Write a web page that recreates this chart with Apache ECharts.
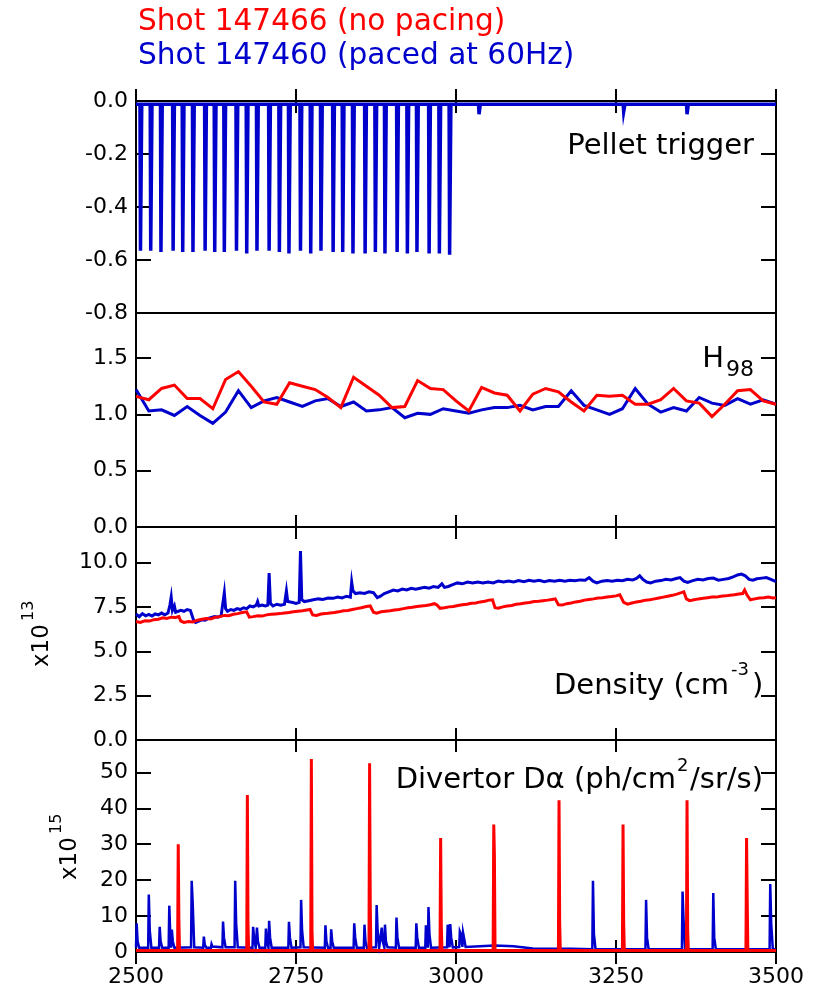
<!DOCTYPE html>
<html><head><meta charset="utf-8">
<script src="https://cdn.jsdelivr.net/npm/echarts@6/dist/echarts.min.js"></script>
<style>html,body{margin:0;padding:0;background:#fff}#c{width:819px;height:989px}</style>
</head><body><div id="c"></div><script>
// ---------------- DATA ----------------
const X_MIN = 2500, X_MAX = 3500, X_INTERVAL = 250;
const X_TICKS = ['2500', '2750', '3000', '3250', '3500'];

// Panel 1: pellet trigger (blue, shot 147460)
const PELLET_BASE = -0.012;
const PELLET_SPIKE_T = [2507, 2523, 2539, 2558, 2573, 2589, 2608, 2623, 2638, 2657, 2673, 2689, 2708, 2724, 2739,
  2757, 2773, 2789, 2808, 2823, 2839, 2858, 2874, 2889, 2908, 2924, 2939, 2958, 2974, 2990, 3036, 3262, 3361];
const PELLET_SPIKE_V = [-0.565, -0.565, -0.57, -0.565, -0.57, -0.57, -0.565, -0.57, -0.57, -0.565, -0.575, -0.565, -0.565, -0.57, -0.575,
  -0.565, -0.575, -0.565, -0.57, -0.57, -0.575, -0.575, -0.57, -0.575, -0.57, -0.575, -0.57, -0.575, -0.575, -0.58, -0.05, -0.04, -0.05];

// Panel 2: H98
const H98_T = [2500, 2520, 2540, 2560, 2580, 2600, 2620, 2640, 2660, 2680, 2700, 2720, 2740, 2760, 2780, 2800, 2820, 2840, 2860, 2880,
  2900, 2920, 2940, 2960, 2980, 3000, 3020, 3040, 3060, 3080, 3100, 3120, 3140, 3160, 3180, 3200, 3220, 3240, 3260, 3280,
  3300, 3320, 3340, 3360, 3380, 3400, 3420, 3440, 3460, 3480, 3500];
const H98_RED = [1.16, 1.13, 1.23, 1.26, 1.14, 1.14, 1.05, 1.31, 1.38, 1.25, 1.11, 1.09, 1.28, 1.25, 1.22, 1.15, 1.06, 1.33, 1.25, 1.17,
  1.06, 1.07, 1.30, 1.23, 1.22, 1.12, 1.03, 1.24, 1.19, 1.17, 1.03, 1.18, 1.23, 1.20, 1.11, 1.03, 1.17, 1.16, 1.17, 1.09,
  1.09, 1.13, 1.23, 1.12, 1.10, 0.98, 1.09, 1.21, 1.22, 1.12, 1.09];
const H98_BLUE = [1.22, 1.03, 1.04, 0.99, 1.07, 0.99, 0.92, 1.02, 1.21, 1.06, 1.12, 1.15, 1.11, 1.07, 1.12, 1.14, 1.07, 1.11, 1.03, 1.04,
  1.06, 0.97, 1.01, 1.00, 1.05, 1.03, 1.01, 1.04, 1.06, 1.06, 1.08, 1.04, 1.07, 1.07, 1.21, 1.08, 1.04, 1.00, 1.05, 1.23,
  1.09, 1.02, 1.06, 1.03, 1.15, 1.10, 1.08, 1.14, 1.09, 1.13, 1.09];

// Panel 3: density (x1e13 cm^-3)
const DENS_BLUE = [[2500,7.10],[2505,6.95],[2510,7.12],[2515,7.00],[2520,7.08],[2525,6.98],[2530,7.10],[2535,7.05],[2540,7.15],[2545,7.05],
  [2550,7.15],[2553,7.6],[2555,8.05],[2557,7.3],[2560,7.55],[2562,7.2],[2565,7.25],[2570,7.30],[2575,7.25],[2580,7.35],[2585,7.30],[2588,7.38],
  [2590,6.75],[2593,6.62],[2598,6.70],[2603,6.78],[2608,6.75],[2613,6.85],[2618,6.90],[2623,6.95],[2628,6.92],[2633,7.00],[2636,7.05],
  [2638,8.30],[2640,7.4],[2643,7.25],[2648,7.35],[2653,7.30],[2658,7.40],[2663,7.35],[2668,7.45],[2673,7.40],[2678,7.55],[2683,7.50],
  [2688,7.60],[2690,7.8],[2692,7.55],[2697,7.60],[2702,7.55],[2706,7.6],[2708,9.40],[2710,7.7],[2714,7.55],[2720,7.65],[2726,7.60],
  [2732,7.65],[2735,8.4],[2737,7.8],[2740,7.7],[2745,7.75],[2750,7.70],[2755,7.75],[2757,10.65],[2759,7.9],[2763,7.80],[2770,7.85],
  [2777,7.90],[2785,7.95],[2792,7.92],[2800,8.00],[2808,7.98],[2815,8.05],[2822,8.00],[2829,8.10],[2835,8.05],[2837,8.9],[2839,8.4],
  [2843,8.25],[2850,8.30],[2857,8.26],[2864,8.35],[2871,8.30],[2877,8.02],[2882,8.10],[2888,8.25],[2895,8.35],[2902,8.45],[2909,8.40],
  [2916,8.50],[2923,8.45],[2930,8.55],[2937,8.50],[2944,8.55],[2951,8.60],[2958,8.55],[2965,8.65],[2972,8.60],[2978,8.80],[2982,8.60],
  [2988,8.65],[2995,8.75],[3002,8.85],[3010,8.80],[3018,8.90],[3026,8.85],[3034,8.90],[3042,8.85],[3050,8.90],[3058,8.85],[3066,8.95],
  [3074,8.90],[3082,8.95],[3090,8.90],[3098,8.98],[3106,8.92],[3114,9.00],[3122,8.95],[3130,9.00],[3138,8.92],[3146,8.98],[3154,8.95],
  [3162,9.00],[3170,8.95],[3178,9.00],[3186,8.97],[3194,9.02],[3202,9.00],[3208,9.15],[3214,8.95],[3220,8.85],[3228,8.95],[3236,8.98],
  [3244,8.95],[3252,9.00],[3260,8.97],[3268,9.05],[3276,9.02],[3282,9.10],[3287,9.25],[3292,9.05],[3298,8.90],[3304,8.85],[3312,8.95],
  [3320,8.98],[3328,9.05],[3336,9.02],[3344,9.10],[3350,9.15],[3356,8.95],[3362,8.88],[3370,8.98],[3378,9.05],[3386,9.02],[3394,9.10],
  [3402,9.12],[3410,9.00],[3418,9.05],[3426,9.10],[3434,9.20],[3440,9.30],[3446,9.35],[3452,9.25],[3458,9.05],[3464,9.00],[3470,9.08],
  [3478,9.12],[3485,9.15],[3492,9.05],[3498,8.95],[3500,9.00]];
const DENS_RED = [[2500,6.68],[2507,6.62],[2514,6.72],[2521,6.70],[2528,6.78],[2535,6.80],[2542,6.88],[2548,6.85],[2555,6.92],[2562,6.90],
  [2567,6.95],[2570,6.70],[2575,6.62],[2582,6.68],[2589,6.65],[2596,6.75],[2603,6.80],[2610,6.85],[2617,6.82],[2624,6.92],[2631,6.95],
  [2638,7.02],[2645,7.00],[2652,7.08],[2659,7.12],[2666,7.18],[2673,7.22],[2677,6.92],[2683,6.95],[2690,7.00],[2697,6.98],[2704,7.05],
  [2711,7.08],[2718,7.10],[2725,7.12],[2732,7.15],[2739,7.18],[2746,7.22],[2753,7.25],[2760,7.28],[2767,7.32],[2772,7.35],[2776,7.05],
  [2782,7.02],[2789,7.10],[2796,7.12],[2803,7.15],[2810,7.18],[2817,7.22],[2824,7.28],[2831,7.30],[2838,7.35],[2845,7.40],[2852,7.45],
  [2860,7.52],[2866,7.55],[2871,7.20],[2876,7.15],[2883,7.22],[2890,7.25],[2897,7.28],[2904,7.32],[2911,7.35],[2918,7.40],[2925,7.45],
  [2932,7.48],[2939,7.52],[2946,7.55],[2953,7.58],[2960,7.62],[2966,7.68],[2970,7.62],[2975,7.42],[2982,7.45],[2989,7.50],[2996,7.52],
  [3003,7.58],[3010,7.62],[3017,7.65],[3024,7.70],[3031,7.72],[3038,7.78],[3045,7.82],[3052,7.88],[3057,7.90],[3061,7.45],[3066,7.42],
  [3073,7.50],[3080,7.55],[3087,7.58],[3094,7.65],[3101,7.68],[3108,7.72],[3115,7.75],[3122,7.80],[3129,7.82],[3136,7.85],[3143,7.88],
  [3150,7.92],[3155,7.95],[3160,7.62],[3166,7.60],[3173,7.68],[3180,7.72],[3187,7.78],[3194,7.82],[3201,7.88],[3208,7.92],[3215,7.95],
  [3222,8.00],[3229,8.02],[3236,8.05],[3243,8.08],[3250,8.12],[3256,8.18],[3262,7.75],[3268,7.65],[3275,7.72],[3282,7.78],[3289,7.82],
  [3296,7.88],[3303,7.90],[3310,7.95],[3317,8.00],[3324,8.05],[3331,8.10],[3338,8.15],[3345,8.22],[3352,8.30],[3356,8.35],[3360,7.95],
  [3365,7.85],[3372,7.90],[3379,7.95],[3386,7.98],[3393,8.02],[3400,8.05],[3407,8.05],[3414,8.10],[3421,8.12],[3428,8.15],[3435,8.18],
  [3442,8.22],[3448,8.25],[3451,8.45],[3455,8.15],[3460,7.90],[3467,7.95],[3474,8.00],[3481,8.02],[3488,8.05],[3495,8.00],[3500,8.02]];

// Panel 4: divertor D-alpha (x1e15)
const DA_RED_BASE = 0.4;
const DA_RED_T = [2566, 2674, 2774, 2865, 2976, 3059, 3161, 3261, 3361, 3454];
const DA_RED_PEAK = [30, 43.7, 53.7, 52.5, 31.7, 35.5, 42.2, 35.5, 42.2, 31.7];
const DA_RED_SHOULDER = [9, 8, 6, 14, 8, 27, 8, 8, 6, 15];
// blue spikes: [time, peak, tail, local baseline]
const DA_BLUE_SPIKES = [[2501,8,3,1.2],[2520,16,6,1.2],[2537,7,3,1.2],[2552,12.9,5,1.2],[2556,6.2,3,1.2],[2587,19.8,14,1.3],
  [2606,4.3,2,1.2],[2618,2.2,1.5,1.2],[2636,8.5,4,1.3],[2655,19.8,8,1.3],[2683,7,4,1.2],[2689,6.8,3,1.2],[2703,6.5,3,1.2],
  [2708,8.7,4,1.2],[2739,8.4,4,1.2],[2758,14.5,6,1.3],[2796,7.4,3,1.2],[2805,6.3,3,1.2],[2841,8,4,1.2],[2857,7.6,3,1.2],
  [2876,13.1,6,1.3],[2884,6.8,3,1.3],[2889,7.6,3,1.3],[2907,9.6,4,1.2],[2938,8,4,1.2],[2953,7.4,3,1.2],[2957,12.5,5,1.2],
  [2987,7.6,4,1.3],[2991,7.8,4,1.3],[3006,5.7,5,1.4],[3011,5.4,4,1.4],[3214,19.8,5,0.8],[3297,14.5,4,0.8],[3354,16.8,9,0.8],
  [3402,16.4,4,0.8],[3491,18.9,8,0.8]];
const DA_BLUE_BASE = [[2500,1.2],[3030,1.5],[3060,1.8],[3090,1.6],[3120,1.0],[3180,0.9],[3500,0.8]];

// ---------------- BUILD ----------------
const RED = '#ff0000', BLUE = '#0000cc';
const FONT = 'DejaVu Sans';

function pelletTrace() {
  const pts = [[X_MIN, PELLET_BASE]];
  PELLET_SPIKE_T.forEach((t, i) => {
    pts.push([t - 0.8, PELLET_BASE], [t, PELLET_SPIKE_V[i]], [t + 1.2, PELLET_SPIKE_V[i]], [t + 2, PELLET_BASE]);
  });
  pts.push([X_MAX, PELLET_BASE]);
  return pts.sort((a, b) => a[0] - b[0]);
}
function redDaTrace() {
  const pts = [[X_MIN, DA_RED_BASE]];
  DA_RED_T.forEach((t, i) => {
    pts.push([t - 1, DA_RED_BASE], [t, DA_RED_PEAK[i]], [t + 1, DA_RED_SHOULDER[i]], [t + 2, DA_RED_BASE]);
  });
  pts.push([X_MAX, DA_RED_BASE]);
  return pts.sort((a, b) => a[0] - b[0]);
}
function blueDaTrace() {
  const pts = DA_BLUE_BASE.slice();
  DA_BLUE_SPIKES.forEach(s => {
    pts.push([s[0] - 1, s[3]], [s[0], s[1]], [s[0] + 1.5, s[2]], [s[0] + 4, s[3]]);
  });
  return pts.sort((a, b) => a[0] - b[0]);
}
const zip = (xs, ys) => xs.map((x, i) => [x, ys[i]]);

const PANELS = [
  { top: 101, height: 212, min: -0.8, max: 0, interval: 0.2, fmt: v => v.toFixed(1) },
  { top: 313, height: 214, min: 0, max: 1.9, interval: 0.5, fmt: v => v.toFixed(1) },
  { top: 527, height: 213, min: 0, max: 12, interval: 2.5, fmt: v => v.toFixed(1) },
  { top: 740, height: 212, min: 0, max: 59, interval: 10, fmt: v => String(Math.round(v)) }
];

const grid = [], xAxis = [], yAxis = [];
PANELS.forEach((p, i) => {
  grid.push({ left: 136, width: 640, top: p.top, height: p.height, show: true, borderColor: '#000', borderWidth: 2, backgroundColor: 'transparent' });
  ['bottom', 'top'].forEach(pos => {
    xAxis.push({
      gridIndex: i, type: 'value', position: pos, min: X_MIN, max: X_MAX, interval: X_INTERVAL,
      axisLine: { show: false }, splitLine: { show: false },
      axisTick: { show: true, inside: true, length: 12, lineStyle: { color: '#000', width: 2 } },
      axisLabel: { show: i === 3 && pos === 'bottom', margin: 14, color: '#000', fontFamily: FONT, fontSize: 22,
        formatter: v => X_TICKS.indexOf(String(Math.round(v))) >= 0 ? String(Math.round(v)) : '' }
    });
  });
  ['left', 'right'].forEach(pos => {
    yAxis.push({
      gridIndex: i, type: 'value', position: pos, min: p.min, max: p.max, interval: p.interval,
      axisLine: { show: false }, splitLine: { show: false },
      axisTick: { show: true, inside: true, length: 15, lineStyle: { color: '#000', width: 2 } },
      axisLabel: { show: pos === 'left', margin: 8, color: '#000', fontFamily: FONT, fontSize: 22,
        formatter: v => { const k = (v - p.min) / p.interval; return Math.abs(k - Math.round(k)) < 1e-6 ? p.fmt(v) : ''; } }
    });
  });
});

function line(gi, data, color, width) {
  return { type: 'line', xAxisIndex: gi * 2, yAxisIndex: gi * 2, data, showSymbol: false, symbol: 'none',
    lineStyle: { color, width, join: 'miter' }, itemStyle: { color }, animation: false, silent: true };
}

const series = [
  line(0, pelletTrace(), BLUE, 3.5),
  line(1, zip(H98_T, H98_BLUE), BLUE, 3),
  line(1, zip(H98_T, H98_RED), RED, 3),
  line(2, DENS_BLUE, BLUE, 3),
  line(2, DENS_RED, RED, 3),
  line(3, blueDaTrace(), BLUE, 2.5),
  line(3, redDaTrace(), RED, 3)
];

const txt = (x, y, text, size, align, color, extra) => Object.assign({ type: 'text', x, y, silent: true,
  style: { text, fill: color || '#000', font: size + 'px "' + FONT + '"', textAlign: align || 'left', textVerticalAlign: 'middle' } }, extra || {});

const graphic = [
  txt(138, 22, 'Shot 147466 (no pacing)', 29.6, 'left', RED),
  txt(138, 56, 'Shot 147460 (paced at 60Hz)', 29.6, 'left', BLUE),
  txt(754, 146, 'Pellet trigger', 29, 'right'),
  txt(724, 359, 'H', 29, 'right'),
  txt(726, 370, '98', 22, 'left'),
  txt(729, 686, 'Density (cm', 29, 'right'),
  txt(731, 670, '-3', 18, 'left'),
  txt(752, 686, ')', 29, 'left'),
  txt(676, 780, 'Divertor D\u03b1 (ph/cm', 29, 'right'),
  txt(677, 766, '2', 18, 'left'),
  txt(690, 780, '/sr/s)', 29, 'left'),
  { type: 'group', x: 42, y: 667, rotation: Math.PI / 2, children: [
      txt(0, 0, 'x10', 23, 'left'), txt(46, -13, '13', 16, 'left') ] },
  { type: 'group', x: 70, y: 880, rotation: Math.PI / 2, children: [
      txt(0, 0, 'x10', 23, 'left'), txt(46, -13, '15', 16, 'left') ] }
];

const chart = echarts.init(document.getElementById('c'), null, { renderer: 'canvas' });
chart.setOption({ animation: false, backgroundColor: '#fff', grid, xAxis, yAxis, series, graphic });
</script></body></html>
